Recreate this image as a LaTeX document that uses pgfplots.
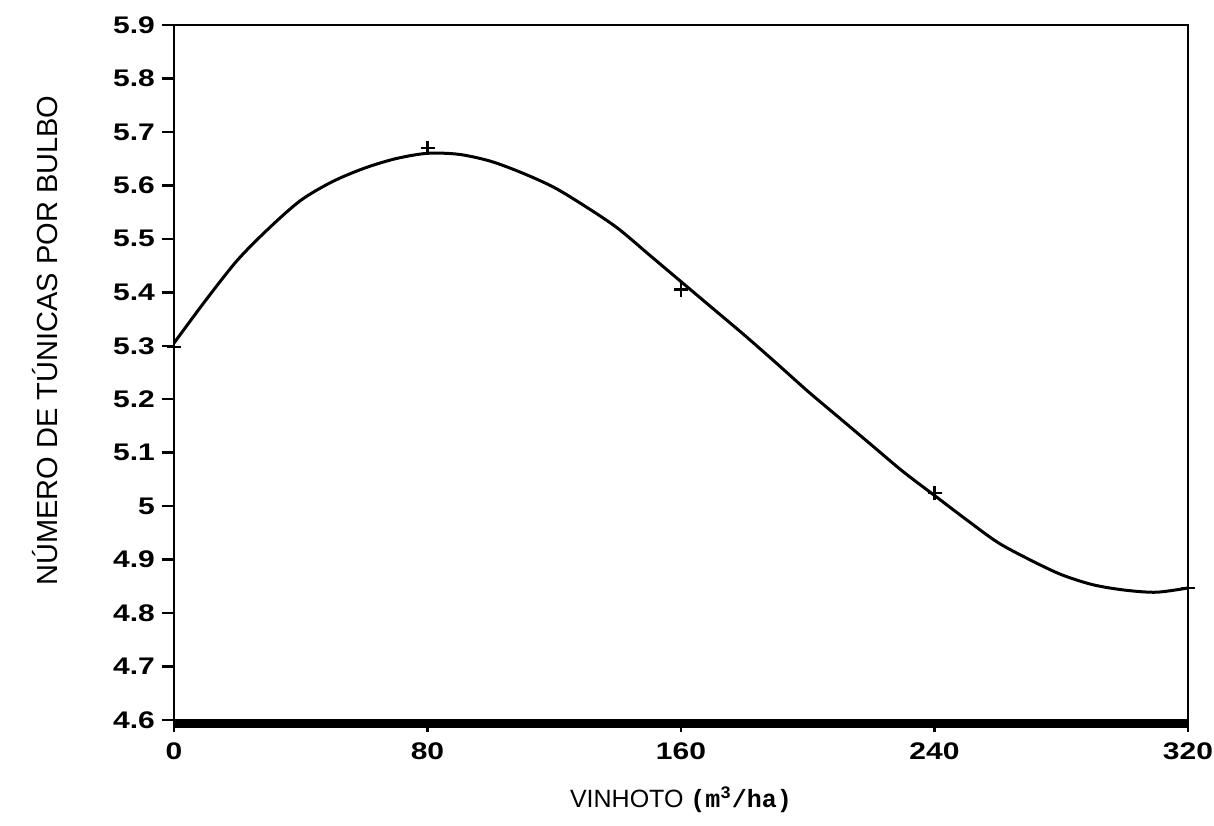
\documentclass[border=0pt]{standalone}
\usepackage{fontspec}
\setmainfont{Liberation Sans}
\setmonofont{Liberation Mono}
\newfontfamily\tickfont[FakeStretch=1.25]{Liberation Sans}
\usepackage{pgfplots}
\pgfplotsset{compat=1.18}
\begin{document}
\begin{tikzpicture}
\begin{axis}[
  at={(0,0)}, anchor=south west,
  scale only axis, width=507pt, height=347.5pt,
  xmin=0, xmax=320, ymin=4.6, ymax=5.9,
  xtick={0,80,160,240,320},
  xticklabels={0,80,160,240,320},
  ytick={4.6,4.7,4.8,4.9,5,5.1,5.2,5.3,5.4,5.5,5.6,5.7,5.8,5.9},
  yticklabels={4.6,4.7,4.8,4.9,5,5.1,5.2,5.3,5.4,5.5,5.6,5.7,5.8,5.9},
  xtick pos=bottom, ytick pos=left,
  tick align=outside,
  major tick length=6pt,
  axis line style={line width=1.2pt},
  every tick/.style={black, line width=1.2pt},
  ticklabel style={font=\tickfont\fontsize{12}{14}\selectfont\bfseries},
  xticklabel style={yshift=-2pt},
  clip=false,
  xlabel={VINHOTO {\ttfamily\bfseries (m\textsuperscript{3}/ha)}},
  xlabel style={font=\fontsize{12.5}{14}\selectfont, at={(axis description cs:0.5,0)}, anchor=center, yshift=-40pt},
  ylabel={NÚMERO DE TÚNICAS POR BULBO},
  ylabel style={font=\fontsize{14.5}{16}\selectfont, at={(axis description cs:0,0.5)}, anchor=center, yshift=64.5pt, xshift=16pt},
]
\draw[line width=4pt, black] ([yshift=-1.8pt]axis cs:0,4.6) -- ([yshift=-1.8pt]axis cs:320,4.6);
\addplot[black, line width=1.5pt, smooth] coordinates {
(0,5.305) (10,5.385) (20,5.46) (30,5.52) (40,5.572) (50,5.607) (60,5.632)
(70,5.650) (80,5.660) (90,5.658) (100,5.645) (110,5.623) (120,5.596)
(130,5.56) (140,5.52) (150,5.47) (160,5.42) (170,5.37) (180,5.32)
(190,5.268) (200,5.215) (210,5.165) (220,5.115) (230,5.065) (240,5.02)
(250,4.975) (260,4.932) (270,4.9) (280,4.872) (290,4.853) (300,4.843)
(310,4.839) (320,4.847)
};
\addplot[only marks, mark=+, mark size=3.5pt, black, mark options={line width=1.2pt}] coordinates {
(0,5.298) (80,5.67) (160,5.405) (240,5.025) (320,4.847)
};
\end{axis}
\pgfresetboundingbox
\path[use as bounding box] (-87pt,-52.5pt) rectangle (520pt,360pt);
\end{tikzpicture}
\end{document}
